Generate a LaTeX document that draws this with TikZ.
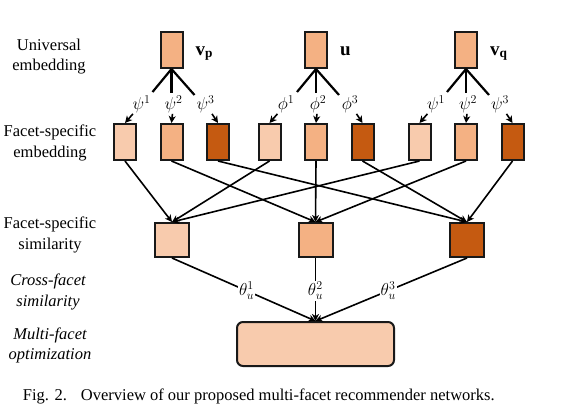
\documentclass[tikz,border=0pt]{standalone}
\usepackage{fontspec}
\setmainfont{Liberation Serif}
\usepackage{amsmath}
\usepackage{tikz}
\usetikzlibrary{arrows.meta, positioning, calc}

\definecolor{peachlight}{HTML}{F8CBAD}
\definecolor{peachmid}{HTML}{F4B183}
\definecolor{rust}{HTML}{C55A11}

\begin{document}
\begin{tikzpicture} [x=1pt, y=-1pt, font=\fontsize{16.5}{20.5}\selectfont,
	embbox/.style={draw=black!90, line width=2pt, minimum width=22pt, minimum height=36pt, inner sep=0pt},
	simbox/.style={draw=black!90, line width=2pt, minimum size=34pt, inner sep=0pt},
	arr/.style={line width=1.6pt, -{Stealth[length=7pt, width=7pt, inset=2pt]}},
	sym/.style={inner sep=1pt},
	row/.style={align=center}]
\useasboundingbox (0,0) rectangle (564,410);

% row titles
\node[row] (t1) at (49,56.5) {Universal\\embedding};
\node[row] (t2) at (50,143) {Facet-specific\\embedding};
\node[row] (t3) at (50,235) {Facet-specific\\similarity};
\node[row, font=\fontsize{16.5}{20.5}\selectfont\itshape] (t4) at (48,292) {Cross-facet\\similarity};
\node[row, font=\fontsize{16.5}{20.5}\selectfont\itshape] (t5) at (50,345.5) {Multi-facet\\optimization};

% universal embeddings
\foreach \n/\x/\lab in {vp/171.5/\mathbf{v_p}, u/316/\mathbf{u}, vq/466/\mathbf{v_q}}{
	\node[embbox, fill=peachmid] (\n) at (\x,50) {};
	\node[anchor=base west, inner sep=0pt, font=\fontsize{19}{22}\selectfont] (\n-name) at ($(\n.east)+(12,5)$) {$\lab$};
}

% facet-specific embeddings
\foreach \n/\x/\s [count=\grp] in {vp/171.5/\psi, u/316/\phi, vq/466/\psi}
	\foreach \fac/\bx/\by/\dx/\col in {1/-19/23/-30/peachlight, 2/0/24/2/peachmid, 3/23/26/34/rust}{
		\coordinate (\n-end\fac) at ($(\n.south)+(\bx,\by)$);
		\draw[line width=2.2pt] (\n.south) -- (\n-end\fac);
		\node[sym] (s\grp\fac) at ({\x+\dx},104) {$\s^{\fac}$};
		\node[embbox, fill=\col] (f\grp\fac) at ({\x+(\fac-2)*46.5},142) {};
		\draw[arr] (s\grp\fac) -- (f\grp\fac.north);
	}

% facet-specific similarity
\foreach \fac/\x/\col in {1/172/peachlight, 2/315.5/peachmid, 3/467/rust}
	\node[simbox, fill=\col] (sim\fac) at (\x,240) {};
\foreach \grp in {1,2,3}
	\foreach \fac in {1,2,3}
		\draw[arr] (f\grp\fac.south) -- (sim\fac.north);

% multi-facet optimization
\node[draw=black!90, line width=2pt, fill=peachlight, rounded corners=6pt, minimum width=157pt, minimum height=44pt] (opt) at (315.5,344) {};
\foreach \fac in {1,2,3}
	\draw[arr] (sim\fac.south) -- node[pos=0.52, fill=white, inner sep=1pt] {$\theta_u^{\fac}$} (opt.north);

\node[anchor=west, inner sep=0pt] (caption) at (22.7,396) {Fig. 2.\hspace{0.85em}Overview of our proposed multi-facet recommender networks.};
\end{tikzpicture}
\end{document}
